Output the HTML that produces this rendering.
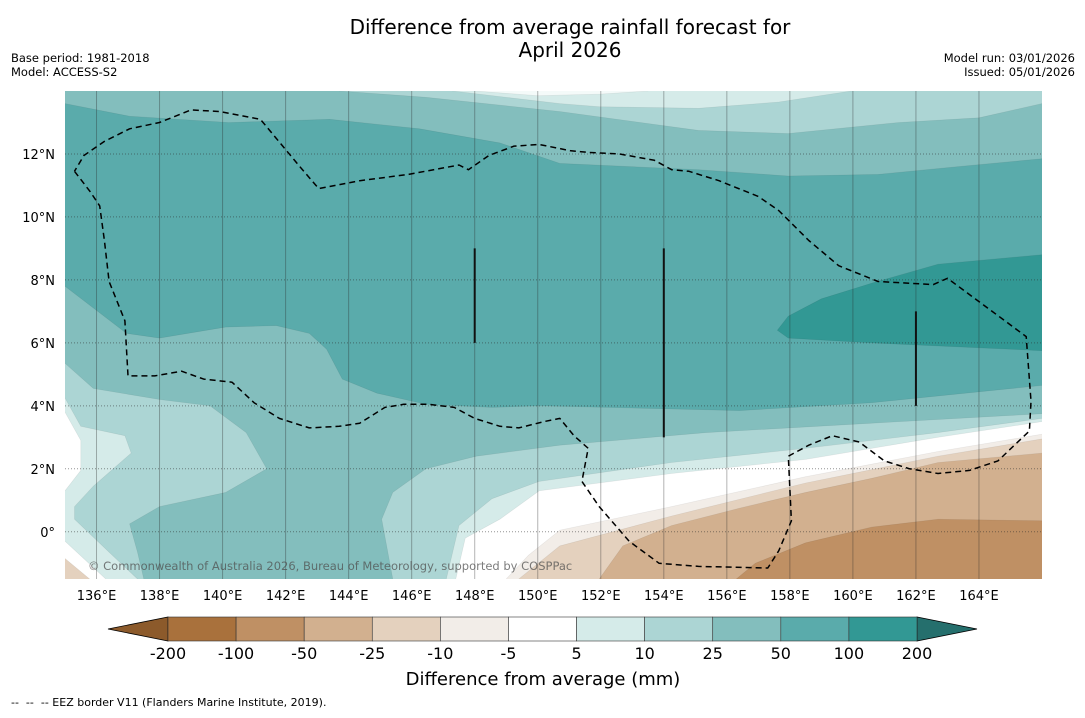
<!DOCTYPE html>
<html><head><meta charset="utf-8"><style>
body{margin:0;background:#fff;width:1085px;height:713px;overflow:hidden;font-family:"Liberation Sans","DejaVu Sans",sans-serif}
svg text{font-family:"DejaVu Sans","Liberation Sans",sans-serif}
</style></head><body>
<svg id="chart" width="1085" height="713" xmlns="http://www.w3.org/2000/svg">
<text x="570" y="34" font-size="20" text-anchor="middle" fill="#000">Difference from average rainfall forecast for</text>
<text x="570" y="57" font-size="20" text-anchor="middle" fill="#000">April 2026</text>
<text x="11" y="62" font-size="11.5" fill="#000">Base period: 1981-2018</text>
<text x="11" y="76" font-size="11.5" fill="#000">Model: ACCESS-S2</text>
<text x="1075" y="62" font-size="11.5" text-anchor="end" fill="#000">Model run: 03/01/2026</text>
<text x="1075" y="76" font-size="11.5" text-anchor="end" fill="#000">Issued: 05/01/2026</text>
<defs><clipPath id="mapclip"><rect x="65" y="91" width="977" height="488"/></clipPath></defs>
<g id="map" clip-path="url(#mapclip)"></g>
<g id="axes"></g>
<g id="cbar"></g>
<text x="543" y="685" font-size="18" text-anchor="middle" fill="#000">Difference from average (mm)</text>
<text x="11" y="706" font-size="11" fill="#000" xml:space="preserve">--  --  -- EEZ border V11 (Flanders Marine Institute, 2019).</text>
</svg>
<script>
// contour regions: [lon, lat]
const bg2550 = [[134.5,14.5],[166.5,14.5],[166.5,-2],[134.5,-2]];
const topBand1025 = [[134.5,14.5],[143.7,14.5],[143.7,14],[146.45,13.8],[150.7,13.35],[155.1,12.75],[157.95,12.65],[161.45,13.0],[164,13.15],[166,13.6],[166.5,13.6],[166.5,14.5]];
const topBand510 = [[147.3,14.5],[147.3,14],[150.7,13.6],[151.95,13.5],[155.1,13.45],[157.65,13.65],[159.95,14],[159.95,14.5]];
const topWhite = [[148.0,14.5],[148.0,14.0],[150.0,13.85],[152.0,13.9],[153.5,14.0],[153.5,14.5]];
const core50100 = [[134.5,13.6],[135,13.6],[137.05,13.2],[140.2,13.0],[143.4,13.1],[146.25,12.8],[148.8,12.35],[150.7,11.7],[155.1,11.5],[157.95,11.3],[160.8,11.35],[163.35,11.6],[166,11.85],[166.5,11.85],[166.5,4.65],[166,4.65],[160.6,4.1],[156.4,3.85],[150.05,4.0],[148.55,3.95],[146.45,4.05],[144.9,4.4],[143.8,4.85],[143.3,5.8],[142.75,6.3],[141.7,6.55],[140.1,6.5],[138.0,6.15],[136.95,6.3],[135,7.8],[134.5,7.8]];
const core100200 = [[157.6,6.4],[157.95,6.85],[159.0,7.4],[160.6,7.9],[162.7,8.5],[166,8.8],[166.5,8.8],[166.5,5.75],[166,5.75],[160.6,6.0],[157.95,6.15]];
const leftLobe1025 = [[134.5,5.35],[135,5.35],[135.9,4.55],[138,4.2],[139.6,4.0],[140.75,3.15],[141.4,2.0],[140.1,1.25],[138,0.8],[137.05,0.25],[137.3,-0.65],[137.5,-1.5],[137.5,-2],[134.5,-2]];
const rightLobe1025 = [[145.4,-2],[145.4,-1.5],[145.05,0.4],[145.4,1.25],[146.45,2.0],[148.05,2.4],[150.7,2.75],[155.35,3.15],[160.6,3.45],[166,3.75],[166.5,3.75],[166.5,-2]];
const left510 = [[134.5,4.25],[135,4.25],[135.5,3.35],[136.9,3.05],[137.1,2.5],[135.9,1.45],[135.3,0.8],[135.3,0.4],[136.4,-0.65],[137.3,-1.5],[137.3,-2],[134.5,-2]];
const leftWhite = [[134.5,3.8],[135,3.8],[135.5,2.9],[135.5,1.95],[135,1.3],[134.5,1.3]];
const leftWhite2 = [[134.5,-0.3],[135,-0.3],[136.4,-1.6],[134.5,-1.6]];
const leftTan = [[134.5,-0.85],[135,-0.85],[135.9,-1.6],[134.5,-1.6]];
const right510 = [[147.1,-2],[147.1,-1.5],[147.5,0.2],[148.55,1.05],[150.05,1.6],[154.25,2.2],[158.5,2.65],[162.7,3.15],[166,3.6],[166.5,3.6],[166.5,-2]];
const rightWhite = [[147.4,-2],[147.4,-1.5],[147.7,-0.2],[148.8,0.4],[150.05,1.3],[154.25,1.85],[158.5,2.3],[162.7,3.0],[166,3.5],[166.5,3.5],[166.5,-2]];
const rightM10 = [[149.0,-2],[149.0,-1.5],[149.7,-0.75],[150.7,0.05],[154.25,0.8],[158.5,1.75],[162.7,2.55],[166,3.1],[166.5,3.1],[166.5,-2]];
const rightM25 = [[149.4,-2],[149.4,-1.5],[150.7,-0.45],[154.25,0.5],[158.5,1.55],[162.7,2.4],[166,2.95],[166.5,2.95],[166.5,-2]];
const rightM50 = [[151.95,-2],[151.95,-1.5],[152.7,-0.45],[154.25,0.2],[156.4,0.75],[158.5,1.25],[160.6,1.7],[162.7,2.2],[166,2.5],[166.5,2.5],[166.5,-2]];
const rightM100 = [[156.3,-2],[156.3,-1.5],[156.9,-1.0],[158.5,-0.35],[160.6,0.15],[162.7,0.4],[166,0.35],[166.5,0.35],[166.5,-2]];
const eezPath = [[135.3,11.45],[135.8,10.8],[136.1,10.35],[136.25,9.25],[136.4,7.95],[136.9,6.7],[137.0,4.95],[137.85,4.95],[138.7,5.1],[139.4,4.85],[140.3,4.75],[141.0,4.1],[141.8,3.6],[142.75,3.3],[143.7,3.35],[144.35,3.45],[145.15,3.95],[145.75,4.05],[146.55,4.05],[147.35,3.95],[148.0,3.6],[148.8,3.35],[149.4,3.3],[150.2,3.5],[150.7,3.6],[151.15,3.05],[151.6,2.65],[151.4,1.6],[151.95,0.8],[152.9,-0.3],[153.85,-1.0],[155.1,-1.1],[157.3,-1.15],[157.65,-0.6],[158.05,0.35],[157.95,2.4],[158.6,2.75],[159.35,3.05],[160.2,2.85],[161.0,2.25],[161.8,2.0],[162.7,1.85],[163.7,1.95],[164.6,2.25],[165.6,3.2],[165.65,4.15],[165.5,6.2],[164.15,7.2],[163.0,8.05],[162.55,7.85],[160.8,7.95],[159.55,8.45],[158.6,9.25],[157.65,10.2],[157.0,10.65],[155.75,11.15],[154.8,11.45],[154.25,11.5],[153.7,11.8],[152.6,12.0],[151.6,12.05],[151.05,12.1],[150.05,12.3],[149.25,12.25],[148.45,11.95],[147.8,11.5],[147.5,11.65],[145.9,11.35],[144.35,11.15],[143.05,10.9],[142.45,11.6],[141.2,13.1],[139.9,13.35],[139.0,13.4],[138.0,13.0],[137.05,12.8],[136.25,12.4],[135.6,11.95],[135.3,11.45]];
const boundaryLons = [148, 154, 162];
const boundaryTop = [9, 9, 7];
const boundaryBottom = [6, 3, 4];
const lonTicks = [136,138,140,142,144,146,148,150,152,154,156,158,160,162,164];
const latTicks = [0,2,4,6,8,10,12];
const cbarLevels = ["-200","-100","-50","-25","-10","-5","5","10","25","50","100","200"];
const cbarColors = ["#a9713c","#bf9064","#d2b08f","#e4d1be","#f2ede8","#ffffff","#d5ebe9","#acd5d4","#83bebd","#5aabab","#329894"];

const X = lon => 65 + (lon - 135) * 977 / 31;
const Y = lat => 91 + (14 - lat) * 488 / 15.5;
const NS = "http://www.w3.org/2000/svg";
const map = document.getElementById('map');
function pts(arr){ return arr.map(p => X(p[0]).toFixed(1) + "," + Y(p[1]).toFixed(1)).join(" "); }
function poly(arr, fill, name){
  const e = document.createElementNS(NS, 'polygon');
  e.setAttribute('points', pts(arr));
  e.setAttribute('fill', fill);
  e.setAttribute('stroke', 'rgba(0,0,0,0.08)');
  e.setAttribute('stroke-width', '0.6');
  e.setAttribute('stroke-linejoin', 'round');
  
  
  map.appendChild(e);
}
const layers = [
 [bg2550,"#83bebd","contour-25-50"],[topBand1025,"#acd5d4","contour-10-25-north"],[topBand510,"#d5ebe9","contour-5-10-north"],[topWhite,"#f4faf9","contour-neutral-north"],
 [core50100,"#5aabab","contour-50-100"],[core100200,"#329894","contour-100-200"],
 [leftLobe1025,"#acd5d4","contour-10-25-southwest"],[rightLobe1025,"#acd5d4","contour-10-25-southeast"],
 [left510,"#d5ebe9","contour-5-10-southwest"],[leftWhite,"#ffffff","contour-neutral-west"],[leftWhite2,"#ffffff","contour-neutral-southwest"],[leftTan,"#e4d1be","contour-minus25-southwest"],
 [right510,"#d5ebe9","contour-5-10-southeast"],[rightWhite,"#ffffff","contour-neutral-southeast"],[rightM10,"#f2ede8","contour-minus10-minus5"],
 [rightM25,"#e4d1be","contour-minus25-minus10"],[rightM50,"#d2b08f","contour-minus50-minus25"],[rightM100,"#bf9064","contour-minus100-minus50"]
];
layers.forEach(l => poly(l[0], l[1], l[2]));

lonTicks.forEach(lon => {
  const l = document.createElementNS(NS,'line');
  l.setAttribute('x1', X(lon)); l.setAttribute('x2', X(lon)); l.setAttribute('y1', 91); l.setAttribute('y2', 579);
  l.setAttribute('stroke', 'rgba(40,40,40,0.35)'); l.setAttribute('stroke-width', '1');
  
  
  map.appendChild(l);
});
latTicks.forEach(lat => {
  const l = document.createElementNS(NS,'line');
  l.setAttribute('x1', 65); l.setAttribute('x2', 1042); l.setAttribute('y1', Y(lat)); l.setAttribute('y2', Y(lat));
  l.setAttribute('stroke', 'rgba(40,40,40,0.5)'); l.setAttribute('stroke-width', '1'); l.setAttribute('stroke-dasharray', '1,2');
  
  
  map.appendChild(l);
});
const eez = document.createElementNS(NS,'polyline');
eez.setAttribute('points', pts(eezPath));
eez.setAttribute('fill','none'); eez.setAttribute('stroke','#000'); eez.setAttribute('stroke-width','1.5'); eez.setAttribute('stroke-dasharray','6,4');
eez.setAttribute('stroke-linejoin','round');


map.appendChild(eez);
boundaryLons.forEach((lon,i) => {
  const l = document.createElementNS(NS,'line');
  l.setAttribute('x1', X(lon)); l.setAttribute('x2', X(lon)); l.setAttribute('y1', Y(boundaryTop[i])); l.setAttribute('y2', Y(boundaryBottom[i]));
  l.setAttribute('stroke', '#111'); l.setAttribute('stroke-width', '2');
  
  
  map.appendChild(l);
});
const cr = document.createElementNS(NS,'text');
cr.setAttribute('x', 88); cr.setAttribute('y', 570); cr.setAttribute('font-size', '11.5'); cr.setAttribute('fill', 'rgba(80,80,80,0.75)');
cr.textContent = '© Commonwealth of Australia 2026, Bureau of Meteorology, supported by COSPPac';


map.appendChild(cr);

const axes = document.getElementById('axes');
lonTicks.forEach(lon => {
  const t = document.createElementNS(NS,'text');
  t.setAttribute('x', X(lon)); t.setAttribute('y', 600); t.setAttribute('font-size', '13'); t.setAttribute('text-anchor', 'middle');
  t.textContent = lon + '°E';
  
  
  axes.appendChild(t);
});
latTicks.forEach(lat => {
  const t = document.createElementNS(NS,'text');
  t.setAttribute('x', 55); t.setAttribute('y', Y(lat) + 5); t.setAttribute('font-size', '13'); t.setAttribute('text-anchor', 'end');
  t.textContent = lat === 0 ? '0°' : lat + '°N';
  
  
  axes.appendChild(t);
});

const cb = document.getElementById('cbar');
const cx0 = 168, cx1 = 917, cy0 = 617, cy1 = 641, seg = (cx1 - cx0) / cbarColors.length;
function cbEl(tag, attrs, name){
  const e = document.createElementNS(NS, tag);
  for (const k in attrs) e.setAttribute(k, attrs[k]);
  
  
  cb.appendChild(e); return e;
}
cbEl('polygon', {points: `108,${(cy0+cy1)/2} ${cx0},${cy0} ${cx0},${cy1}`, fill:'#8c5a2b', stroke:'#000', 'stroke-width':'0.8'}, 'colorbar-low-extension');
cbEl('polygon', {points: `977,${(cy0+cy1)/2} ${cx1},${cy0} ${cx1},${cy1}`, fill:'#256f6d', stroke:'#000', 'stroke-width':'0.8'}, 'colorbar-high-extension');
cbarColors.forEach((c,i) => {
  cbEl('rect', {x: cx0 + i*seg, y: cy0, width: seg, height: cy1-cy0, fill: c, stroke:'#333', 'stroke-width':'0.6'}, 'colorbar-segment');
});
cbarLevels.forEach((lab,i) => {
  const t = cbEl('text', {x: cx0 + i*seg, y: 659, 'font-size':'16', 'text-anchor':'middle'}, 'colorbar-tick-label');
  t.textContent = lab;
});
</script>
</body></html>
